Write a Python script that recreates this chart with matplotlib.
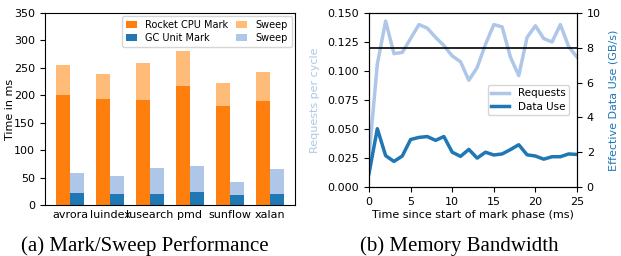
import numpy as np
import matplotlib.pyplot as plt

# left panel: mark/sweep times (ms)
benchmarks = ['avrora', 'luindex', 'lusearch', 'pmd', 'sunflow', 'xalan']
cpu_mark = [201, 193, 191, 217, 180, 190]
cpu_sweep = [55, 46, 67, 64, 43, 53]
gc_mark = [22, 20, 20, 24, 18, 20]
gc_sweep = [37, 33, 48, 48, 24, 46]

# right panel: memory bandwidth over time
time_ms = list(range(26))
requests = [0.026, 0.106, 0.143, 0.115, 0.116, 0.128, 0.140, 0.137, 0.129, 0.122,
            0.113, 0.108, 0.092, 0.103, 0.123, 0.140, 0.138, 0.112, 0.096, 0.129,
            0.139, 0.128, 0.125, 0.140, 0.121, 0.112]
data_use = [0.77, 3.35, 1.8, 1.47, 1.78, 2.73, 2.85, 2.9, 2.68, 2.9,
            2.0, 1.76, 2.16, 1.66, 2.0, 1.84, 1.9, 2.15, 2.43, 1.85,
            1.78, 1.6, 1.74, 1.74, 1.9, 1.87]
limit = 0.12

plt.rcParams['font.size'] = 8
fig = plt.figure(figsize=(6.21, 2.56), dpi=100)

W, H = 621.0, 256.0
ax1 = fig.add_axes([45 / W, 1 - 205 / H, 250 / W, 192 / H])
ax2 = fig.add_axes([369 / W, 1 - 187 / H, 208 / W, 174 / H])

x = np.arange(len(benchmarks))
w = 0.35
b1 = ax1.bar(x - w / 2, cpu_mark, w, color='#ff7f0e')
b2 = ax1.bar(x - w / 2, cpu_sweep, w, bottom=cpu_mark, color='#ffbb78')
b3 = ax1.bar(x + w / 2, gc_mark, w, color='#1f77b4')
b4 = ax1.bar(x + w / 2, gc_sweep, w, bottom=gc_mark, color='#aec7e8')
ax1.set_xticks(x)
ax1.set_xticklabels(benchmarks)
ax1.set_xlim(-0.625, 5.625)
ax1.set_ylim(0, 350)
ax1.set_ylabel('Time in ms')
ax1.yaxis.set_label_coords(-0.12, 0.5)
ax1.tick_params(axis='x', length=0)
ax1.legend([b1, b3, b2, b4], ['Rocket CPU Mark', 'GC Unit Mark', 'Sweep', 'Sweep'],
           ncol=2, loc='upper right', columnspacing=0.8, handletextpad=0.9,
           handlelength=1.1, fontsize=7, borderaxespad=0.3, labelspacing=0.3)

ln1, = ax2.plot(time_ms, requests, color='#aec7e8', lw=2.5)
ax2.axhline(limit, color='black', lw=1.2)
ax2.set_xlim(0, 25)
ax2.set_ylim(0, 0.15)
ax2.set_yticks([0, 0.025, 0.05, 0.075, 0.1, 0.125, 0.15])
ax2.set_yticklabels(['0.000', '0.025', '0.050', '0.075', '0.100', '0.125', '0.150'])
ax2.set_ylabel('Requests per cycle', color='#aec7e8')
ax2.yaxis.set_label_coords(-0.235, 0.5)
ax2.set_xlabel('Time since start of mark phase (ms)', labelpad=2)

ax3 = ax2.twinx()
ln2, = ax3.plot(time_ms, data_use, color='#1f77b4', lw=2.5)
ax3.set_ylim(0, 10)
ax3.set_ylabel('Effective Data Use (GB/s)', color='#1f77b4')
ax3.yaxis.set_label_coords(1.15, 0.5)
ax2.legend([ln1, ln2], ['Requests', 'Data Use'], loc='center right',
           bbox_to_anchor=(0.985, 0.5), fontsize=7.5, handlelength=1.8,
           borderpad=0.3, labelspacing=0.3)

fig.text(0.233, 0.04, '(a) Mark/Sweep Performance', family='Liberation Serif',
         fontsize=15, ha='center', va='center')
fig.text(0.74, 0.04, '(b) Memory Bandwidth', family='Liberation Serif',
         fontsize=15, ha='center', va='center')

fig.savefig('out.png', dpi=100)
